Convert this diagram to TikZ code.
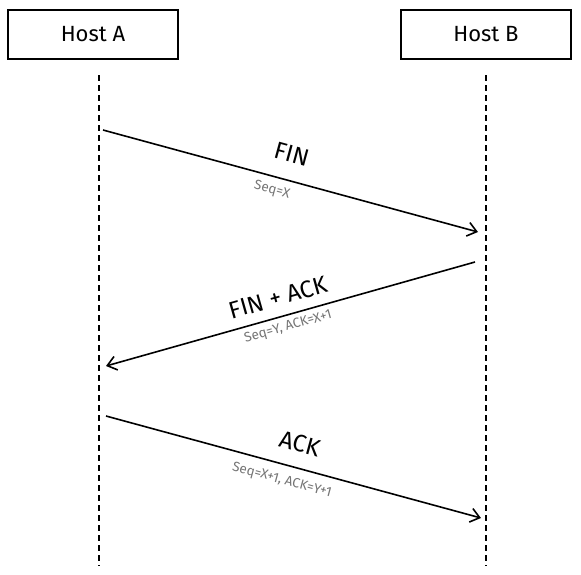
\documentclass[tikz,border=0pt]{standalone}
\usepackage{fontspec}
\setmainfont{Fira Sans}
\usetikzlibrary{arrows.meta,positioning}
\definecolor{ink}{HTML}{000000}
\definecolor{muted}{HTML}{757575}
\tikzset{
  host/.style={draw=ink,line width=1.6pt,minimum width=170pt,minimum height=49pt,font=\fontsize{22}{26}\selectfont,text=ink},
  life/.style={draw=ink,line width=1.6pt,dash pattern=on 6pt off 4pt},
  msg/.style={-{Straight Barb[length=9pt,width=14pt,line width=1.6pt]},line width=1.6pt,draw=ink},
  msglabel/.style={sloped,inner sep=1pt,font=\fontsize{24}{28}\selectfont,text=ink},
  seqlabel/.style={sloped,inner sep=1pt,font=\fontsize{13.5}{16}\selectfont,text=muted}
}
\begin{document}
\begin{tikzpicture}[x=1pt,y=-1pt]
  \useasboundingbox (0,0) rectangle (581,574);
  \node[host] (hA) at (93,34.5) {Host A};
  \node[host] (hB) at (486,34.5) {Host B};
  % lifelines
  \coordinate (a0) at (99,75);
  \coordinate (a1) at (99,566);
  \coordinate (b0) at (486,75);
  \coordinate (b1) at (486,566);
  \draw[life] (a0) -- (a1);
  \draw[life] (b0) -- (b1);
  % message end points
  \coordinate (fin-s) at (103,130);
  \coordinate (fin-e) at (478,232);
  \coordinate (finack-s) at (475,262);
  \coordinate (finack-e) at (106,366);
  \coordinate (ack-s) at (106,416);
  \coordinate (ack-e) at (481,518);
  \draw[msg] (fin-s) -- node[msglabel,above=16pt,pos=0.485] {FIN} node[seqlabel,below=6pt,pos=0.46] {Seq=X} (fin-e);
  \draw[msg] (finack-s) -- node[msglabel,above=9pt,pos=0.52] {FIN + ACK} node[seqlabel,below=4pt,pos=0.515] {Seq=Y, ACK=X+1} (finack-e);
  \draw[msg] (ack-s) -- node[msglabel,above=14pt,pos=0.5] {ACK} node[seqlabel,below=8pt,pos=0.48] {Seq=X+1, ACK=Y+1} (ack-e);
\end{tikzpicture}
\end{document}
